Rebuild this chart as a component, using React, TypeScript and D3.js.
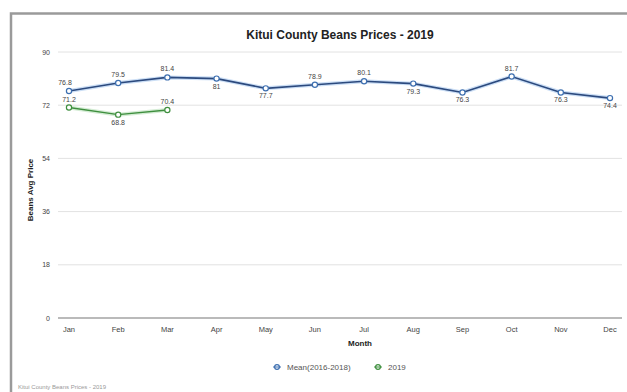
import React from "react";
import * as d3 from "d3";

const months = ["Jan", "Feb", "Mar", "Apr", "May", "Jun", "Jul", "Aug", "Sep", "Oct", "Nov", "Dec"];
const meanValues = [76.8, 79.5, 81.4, 81, 77.7, 78.9, 80.1, 79.3, 76.3, 81.7, 76.3, 74.4];
const meanLabelPos = ["up", "up", "up", "down", "down", "up", "up", "down", "down", "up", "down", "down"];
const values2019 = [71.2, 68.8, 70.4];
const label2019Pos = ["up", "down", "up"];
const yTicks = [0, 18, 36, 54, 72, 90];
const seriesNames = ["Mean(2016-2018)", "2019"];

const W = 627;
const H = 392;
const font = "Liberation Sans, Arial, sans-serif";

export default function App() {
  const x = d3.scalePoint<string>().domain(months).range([69, 610]);
  const y = d3.scaleLinear().domain([0, 90]).range([318, 52]);
  const line = d3.line<number>().x((_, i) => x(months[i])!).y((d) => y(d));
  const blue = "#2c4a7e";
  const green = "#3f8f3f";

  return (
    <svg width={W} height={H} style={{ position: "absolute", left: 0, top: 0 }} fontFamily={font}>
      <rect x={0} y={0} width={W} height={H} fill="#fff" />
      <path d={`M11,${H} V13.5 H${W}`} fill="none" stroke="#9a9a9a" strokeWidth={2.5} />
      <text x={340} y={39} textAnchor="middle" fontSize={12} fontWeight="bold" fill="#222">
        Kitui County Beans Prices - 2019
      </text>
      {yTicks.map((t) => (
        <g key={t}>
          <line x1={58} x2={622} y1={y(t)} y2={y(t)} stroke={t === 0 ? "#777" : "#e2e2e2"} strokeWidth={t === 0 ? 1.2 : 1} />
          <text x={50} y={y(t) + 2.5} textAnchor="end" fontSize={7} fill="#444">{t}</text>
        </g>
      ))}
      {months.map((m) => (
        <text key={m} x={x(m)!} y={332} textAnchor="middle" fontSize={7.5} fill="#444">{m}</text>
      ))}
      <text x={360} y={346} textAnchor="middle" fontSize={8} fontWeight="bold" fill="#222">Month</text>
      <text transform={`translate(33,190) rotate(-90)`} textAnchor="middle" fontSize={8} fontWeight="bold" fill="#222">
        Beans Avg Price
      </text>
      <path d={line(meanValues)!} fill="none" stroke="#a9c8ee" strokeWidth={4} strokeOpacity={0.6} />
      <path d={line(meanValues)!} fill="none" stroke={blue} strokeWidth={1.6} />
      <path d={line(values2019)!} fill="none" stroke="#b7e0b7" strokeWidth={4} strokeOpacity={0.6} />
      <path d={line(values2019)!} fill="none" stroke={green} strokeWidth={1.4} />
      {meanValues.map((v, i) => (
        <g key={"m" + i}>
          <circle cx={x(months[i])!} cy={y(v)} r={2.6} fill="#fff" stroke="#3d6fb0" strokeWidth={1.2} />
          <text x={x(months[i])! - (i === 0 ? 4 : 0)} y={meanLabelPos[i] === "up" ? y(v) - 6 : y(v) + 10} textAnchor="middle" fontSize={7} fill="#444">
            {v}
          </text>
        </g>
      ))}
      {values2019.map((v, i) => (
        <g key={"n" + i}>
          <circle cx={x(months[i])!} cy={y(v)} r={2.6} fill="#fff" stroke={green} strokeWidth={1.2} />
          <text x={x(months[i])!} y={label2019Pos[i] === "up" ? y(v) - 6 : y(v) + 10} textAnchor="middle" fontSize={7} fill="#444">
            {v}
          </text>
        </g>
      ))}
      <g fontSize={8} fill="#555">
        <circle cx={277} cy={367} r={2.4} fill="#fff" stroke="#3d6fb0" strokeWidth={1.2} />
        <line x1={273} x2={281} y1={367} y2={367} stroke="#3d6fb0" strokeWidth={1} />
        <text x={287} y={370}>{seriesNames[0]}</text>
        <circle cx={378} cy={367} r={2.4} fill="#fff" stroke={green} strokeWidth={1.2} />
        <line x1={374} x2={382} y1={367} y2={367} stroke={green} strokeWidth={1} />
        <text x={388} y={370}>{seriesNames[1]}</text>
      </g>
      <text x={18} y={389} fontSize={6} fill="#999">Kitui County Beans Prices - 2019</text>
    </svg>
  );
}
